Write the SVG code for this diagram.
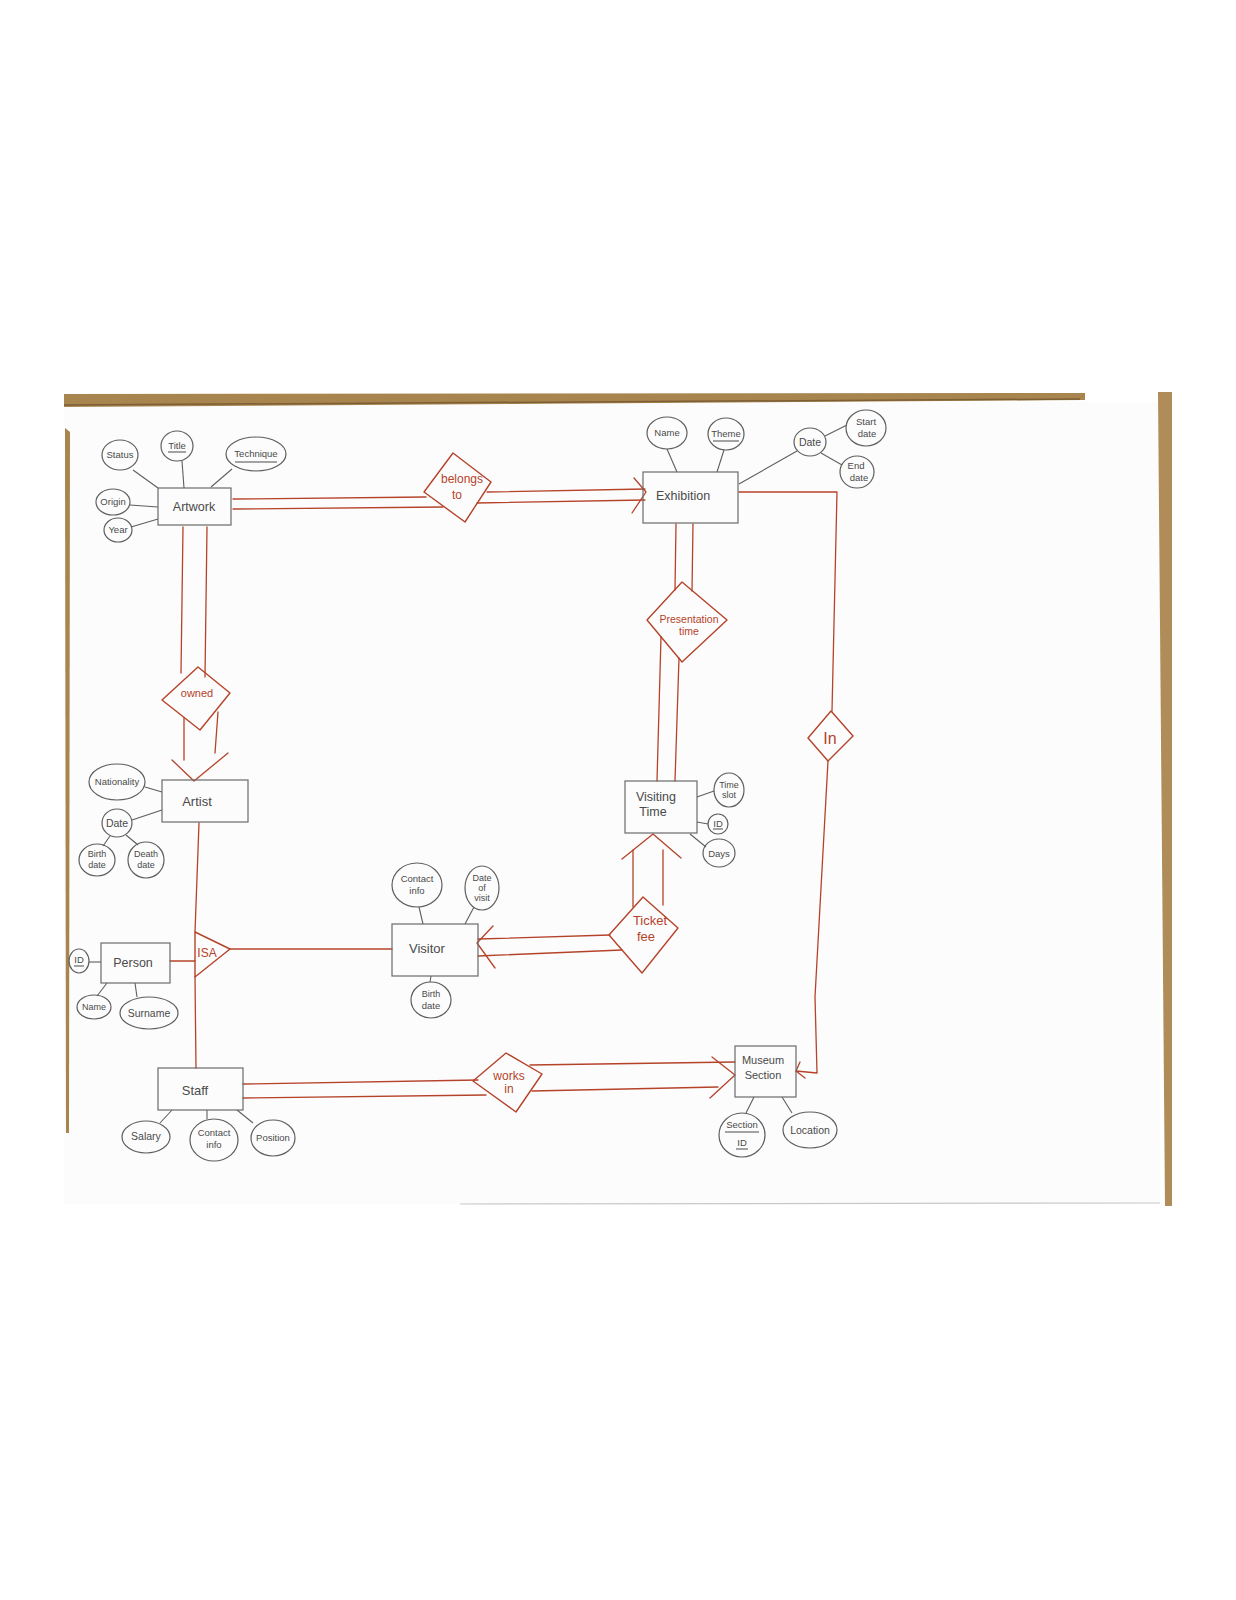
<svg xmlns="http://www.w3.org/2000/svg" width="1236" height="1600" viewBox="0 0 1236 1600">
<style>
.ent{fill:none;stroke:#6a6a6a;stroke-width:1.2}
.att{fill:none;stroke:#5e5e5e;stroke-width:1.2}
.rel{fill:none;stroke:#b5432a;stroke-width:1.4;stroke-linejoin:round}
.rl{fill:none;stroke:#b5432a;stroke-width:1.3;stroke-linecap:round;stroke-linejoin:round}
.al{fill:none;stroke:#5e5e5e;stroke-width:1.1}
.te{font-family:"Liberation Sans",Arial,sans-serif;font-size:12.5px;fill:#4a4a4a;text-anchor:middle}
.ta{font-family:"Liberation Sans",Arial,sans-serif;font-size:9.5px;fill:#4a4a4a;text-anchor:middle}
.tr{font-family:"Liberation Sans",Arial,sans-serif;font-size:12px;fill:#b5432a;text-anchor:middle}
.ul{stroke:#4a4a4a;stroke-width:1}
</style>
<rect x="0" y="0" width="1236" height="1600" fill="#ffffff"/>
<g id="paper">
<rect x="64" y="402" width="1096" height="802" fill="#fcfcfc"/>
<polygon points="64,394 1085,393 1085,400 64,407" fill="#a8844e"/>
<line x1="64" y1="405" x2="1080" y2="399" stroke="#7d5f35" stroke-width="1.5"/>
<polygon points="1158,392 1172,392 1172,1206 1165,1206" fill="#b08d58"/>
<polygon points="65,428 70,432 69,1133 66,1133" fill="#a8844e"/>
<line x1="460" y1="1204" x2="1160" y2="1203" stroke="#c8c8c8" stroke-width="1.2"/>
</g>
<g id="connectors">
<polyline class="rl" points="233,499 426,497"/>
<polyline class="rl" points="233,509 443,507"/>
<polyline class="rl" points="487,492 645,489"/>
<polyline class="rl" points="477,503 645,500"/>
<polyline class="rl" points="634,478 646,492 632,513"/>
<polyline class="rl" points="183,527 181,673"/>
<polyline class="rl" points="207,527 205,677"/>
<polyline class="rl" points="184,718 184,760"/>
<polyline class="rl" points="218,712 215,753"/>
<polyline class="rl" points="172,760 194,781 228,753"/>
<polyline class="rl" points="199,823 195,932"/>
<polyline class="rl" points="195,977 196,1068"/>
<polyline class="rl" points="170,961 195,961"/>
<polyline class="rl" points="230,949 392,949"/>
<polyline class="rl" points="676,524 675,590"/>
<polyline class="rl" points="693,524 692,591"/>
<polyline class="rl" points="661,637 657,781"/>
<polyline class="rl" points="679,658 675,781"/>
<polyline class="rl" points="633,907 633,850"/>
<polyline class="rl" points="663,905 663,850"/>
<polyline class="rl" points="622,859 653,834 681,858"/>
<polyline class="rl" points="610,935 478,939"/>
<polyline class="rl" points="622,950 478,956"/>
<polyline class="rl" points="493,926 477,943 495,968"/>
<polyline class="rl" points="243,1084 478,1080"/>
<polyline class="rl" points="243,1098 486,1095"/>
<polyline class="rl" points="530,1065 735,1062"/>
<polyline class="rl" points="532,1091 718,1087"/>
<polyline class="rl" points="712,1057 735,1075 710,1098"/>
<polyline class="rl" points="739,492 837,492 832,711"/>
<polyline class="rl" points="828,761 815,997 817,1073 796,1071"/>
<polyline class="rl" points="800,1062 796,1071 805,1078"/>
<line class="al" x1="133" y1="470" x2="158" y2="488"/>
<line class="al" x1="182" y1="461" x2="184" y2="488"/>
<line class="al" x1="232" y1="469" x2="211" y2="487"/>
<line class="al" x1="130" y1="505" x2="158" y2="507"/>
<line class="al" x1="131" y1="527" x2="158" y2="519"/>
<line class="al" x1="667" y1="449" x2="677" y2="472"/>
<line class="al" x1="724" y1="450" x2="717" y2="472"/>
<line class="al" x1="797" y1="451" x2="739" y2="484"/>
<line class="al" x1="825" y1="436" x2="847" y2="425"/>
<line class="al" x1="821" y1="453" x2="842" y2="465"/>
<line class="al" x1="145" y1="787" x2="162" y2="792"/>
<line class="al" x1="132" y1="820" x2="162" y2="810"/>
<line class="al" x1="110" y1="836" x2="103" y2="846"/>
<line class="al" x1="126" y1="835" x2="138" y2="845"/>
<line class="al" x1="89" y1="962" x2="101" y2="962"/>
<line class="al" x1="107" y1="983" x2="97" y2="996"/>
<line class="al" x1="135" y1="983" x2="137" y2="997"/>
<line class="al" x1="172" y1="1110" x2="160" y2="1123"/>
<line class="al" x1="207" y1="1110" x2="207" y2="1119"/>
<line class="al" x1="237" y1="1110" x2="253" y2="1123"/>
<line class="al" x1="419" y1="907" x2="423" y2="924"/>
<line class="al" x1="474" y1="907" x2="465" y2="924"/>
<line class="al" x1="431" y1="976" x2="430" y2="982"/>
<line class="al" x1="697" y1="797" x2="714" y2="791"/>
<line class="al" x1="697" y1="822" x2="708" y2="824"/>
<line class="al" x1="690" y1="834" x2="706" y2="847"/>
<line class="al" x1="754" y1="1097" x2="746" y2="1113"/>
<line class="al" x1="782" y1="1097" x2="792" y2="1113"/>
</g>
<g id="artwork"><rect class="ent" x="158" y="488" width="73" height="37"/><text class="te" x="194" y="511">Artwork</text></g>
<g id="exhibition"><rect class="ent" x="643" y="472" width="95" height="51"/><text class="te" x="683" y="500">Exhibition</text></g>
<g id="artist"><rect class="ent" x="162" y="780" width="86" height="42"/><text class="te" x="197" y="806" style="font-size:13px">Artist</text></g>
<g id="person"><rect class="ent" x="101" y="943" width="69" height="40"/><text class="te" x="133" y="967">Person</text></g>
<g id="visitor"><rect class="ent" x="392" y="924" width="86" height="52"/><text class="te" x="427" y="953" style="font-size:13px">Visitor</text></g>
<g id="staff"><rect class="ent" x="158" y="1068" width="85" height="42"/><text class="te" x="195" y="1095" style="font-size:13px">Staff</text></g>
<g id="visiting-time"><rect class="ent" x="625" y="781" width="72" height="52"/><text class="te" x="656" y="801">Visiting</text><text class="te" x="653" y="816">Time</text></g>
<g id="museum-section"><rect class="ent" x="735" y="1046" width="61" height="51"/><text class="te" x="763" y="1064" style="font-size:11px">Museum</text><text class="te" x="763" y="1079" style="font-size:11px">Section</text></g>
<g id="belongs-to"><polygon class="rel" points="453,453 491,482 465,522 424,492"/><text class="tr" x="462" y="483">belongs</text><text class="tr" x="457" y="499">to</text></g>
<g id="owned"><polygon class="rel" points="198,667 230,693 200,730 162,700"/><text class="tr" x="197" y="697" style="font-size:11px">owned</text></g>
<g id="presentation-time"><polygon class="rel" points="682,582 727,620 682,662 647,620"/><text class="tr" x="689" y="623" style="font-size:10.5px">Presentation</text><text class="tr" x="689" y="635" style="font-size:10.5px">time</text></g>
<g id="in"><polygon class="rel" points="831,711 853,736 828,761 808,738"/><text class="tr" x="830" y="744" style="font-size:16px">In</text></g>
<g id="isa"><polygon class="rel" points="195,932 230,949 195,977"/><text class="tr" x="207" y="957">ISA</text></g>
<g id="ticket-fee"><polygon class="rel" points="643,897 678,928 642,973 609,935"/><text class="tr" x="650" y="925" style="font-size:13px">Ticket</text><text class="tr" x="646" y="941" style="font-size:13px">fee</text></g>
<g id="works-in"><polygon class="rel" points="506,1053 542,1074 516,1112 473,1081"/><text class="tr" x="509" y="1080">works</text><text class="tr" x="509" y="1093">in</text></g>
<g id="a-status"><ellipse class="att" cx="120" cy="455" rx="18" ry="15"/><text class="ta" x="120" y="458">Status</text></g>
<g id="a-title"><ellipse class="att" cx="177" cy="446" rx="16" ry="15"/><text class="ta" x="177" y="449">Title</text><line class="ul" x1="168" y1="452" x2="186" y2="452"/></g>
<g id="a-technique"><ellipse class="att" cx="256" cy="454" rx="30" ry="17"/><text class="ta" x="256" y="457">Technique</text><line class="ul" x1="235" y1="462" x2="277" y2="462"/></g>
<g id="a-origin"><ellipse class="att" cx="113" cy="502" rx="17" ry="13"/><text class="ta" x="113" y="505">Origin</text></g>
<g id="a-year"><ellipse class="att" cx="118" cy="530" rx="14" ry="12"/><text class="ta" x="118" y="533">Year</text></g>
<g id="a-name-ex"><ellipse class="att" cx="667" cy="433" rx="20" ry="16"/><text class="ta" x="667" y="436">Name</text></g>
<g id="a-theme"><ellipse class="att" cx="726" cy="434" rx="18" ry="16"/><text class="ta" x="726" y="437">Theme</text><line class="ul" x1="713" y1="441" x2="739" y2="441"/></g>
<g id="a-date-ex"><ellipse class="att" cx="810" cy="442" rx="16" ry="14"/><text class="ta" x="810" y="446" style="font-size:10.5px">Date</text></g>
<g id="a-start-date"><ellipse class="att" cx="866" cy="428" rx="20" ry="18"/><text class="ta" x="866" y="425">Start</text><text class="ta" x="867" y="437">date</text></g>
<g id="a-end-date"><ellipse class="att" cx="857" cy="472" rx="17" ry="16"/><text class="ta" x="856" y="469">End</text><text class="ta" x="859" y="481">date</text></g>
<g id="a-nationality"><ellipse class="att" cx="117" cy="782" rx="28" ry="18"/><text class="ta" x="117" y="785">Nationality</text></g>
<g id="a-date-ar"><ellipse class="att" cx="117" cy="823" rx="15" ry="14"/><text class="ta" x="117" y="827" style="font-size:10.5px">Date</text></g>
<g id="a-birth-ar"><ellipse class="att" cx="97" cy="860" rx="18" ry="16"/><text class="ta" x="97" y="857" style="font-size:9px">Birth</text><text class="ta" x="97" y="868" style="font-size:9px">date</text></g>
<g id="a-death-ar"><ellipse class="att" cx="146" cy="860" rx="18" ry="18"/><text class="ta" x="146" y="857" style="font-size:9px">Death</text><text class="ta" x="146" y="868" style="font-size:9px">date</text></g>
<g id="a-id-pe"><ellipse class="att" cx="79" cy="961" rx="10" ry="12"/><text class="ta" x="79" y="963">ID</text><line class="ul" x1="74" y1="966" x2="84" y2="966"/></g>
<g id="a-name-pe"><ellipse class="att" cx="94" cy="1007" rx="17" ry="12"/><text class="ta" x="94" y="1010" style="font-size:9px">Name</text></g>
<g id="a-surname"><ellipse class="att" cx="149" cy="1013" rx="29" ry="16"/><text class="ta" x="149" y="1017" style="font-size:10.5px">Surname</text></g>
<g id="a-salary"><ellipse class="att" cx="146" cy="1137" rx="24" ry="16"/><text class="ta" x="146" y="1140" style="font-size:10.5px">Salary</text></g>
<g id="a-contact-st"><ellipse class="att" cx="214" cy="1140" rx="24" ry="21"/><text class="ta" x="214" y="1136">Contact</text><text class="ta" x="214" y="1148">info</text></g>
<g id="a-position"><ellipse class="att" cx="273" cy="1138" rx="22" ry="18"/><text class="ta" x="273" y="1141">Position</text></g>
<g id="a-contact-vi"><ellipse class="att" cx="417" cy="885" rx="25" ry="22"/><text class="ta" x="417" y="882">Contact</text><text class="ta" x="417" y="894">info</text></g>
<g id="a-date-visit"><ellipse class="att" cx="482" cy="888" rx="17" ry="22"/><text class="ta" x="482" y="881" style="font-size:9px">Date</text><text class="ta" x="482" y="891" style="font-size:9px">of</text><text class="ta" x="482" y="901" style="font-size:9px">visit</text></g>
<g id="a-birth-vi"><ellipse class="att" cx="431" cy="1000" rx="20" ry="18"/><text class="ta" x="431" y="997" style="font-size:9px">Birth</text><text class="ta" x="431" y="1009">date</text></g>
<g id="a-time-slot"><ellipse class="att" cx="729" cy="790" rx="15" ry="17"/><text class="ta" x="729" y="788" style="font-size:9px">Time</text><text class="ta" x="729" y="798" style="font-size:9px">slot</text></g>
<g id="a-id-vt"><ellipse class="att" cx="718" cy="824" rx="10" ry="10"/><text class="ta" x="718" y="827">ID</text><line class="ul" x1="713" y1="829" x2="723" y2="829"/></g>
<g id="a-days"><ellipse class="att" cx="719" cy="853" rx="16" ry="14"/><text class="ta" x="719" y="857">Days</text></g>
<g id="a-section-id"><ellipse class="att" cx="742" cy="1135" rx="23" ry="22"/><text class="ta" x="742" y="1128">Section</text><line class="ul" x1="725" y1="1132" x2="759" y2="1132"/><text class="ta" x="742" y="1146">ID</text><line class="ul" x1="736" y1="1149" x2="748" y2="1149"/></g>
<g id="a-location"><ellipse class="att" cx="810" cy="1130" rx="27" ry="18"/><text class="ta" x="810" y="1134" style="font-size:10.5px">Location</text></g>
</svg>
